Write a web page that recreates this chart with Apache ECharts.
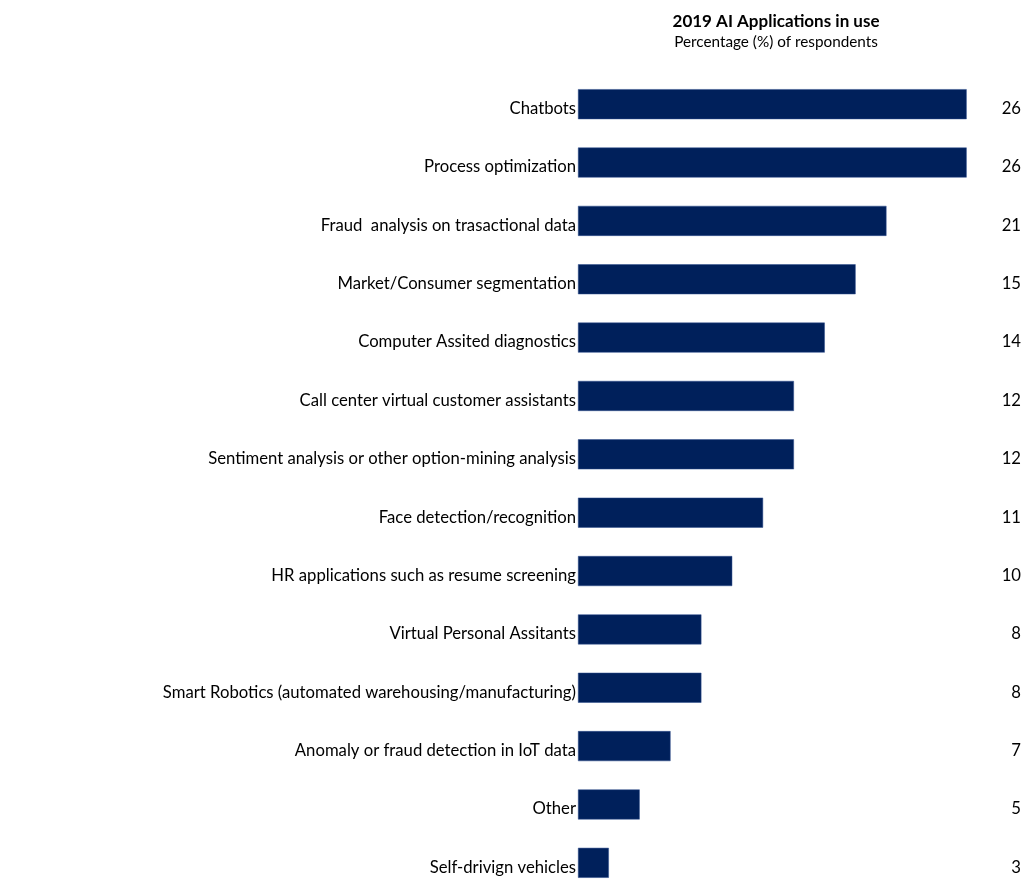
<!DOCTYPE html>
<html>
<head>
<meta charset="utf-8">
<script src="https://cdn.jsdelivr.net/npm/echarts@6/dist/echarts.min.js"></script>
<style>
  html, body { margin: 0; padding: 0; background: #fff; }
  #chart { width: 1024px; height: 892px; }
</style>
</head>
<body>
<div id="chart"></div>
<script>
// categories, top to bottom
const categories = [
  'Chatbots',
  'Process optimization',
  'Fraud  analysis on trasactional data',
  'Market/Consumer segmentation',
  'Computer Assited diagnostics',
  'Call center virtual customer assistants',
  'Sentiment analysis or other option-mining analysis',
  'Face detection/recognition',
  'HR applications such as resume screening',
  'Virtual Personal Assitants',
  'Smart Robotics (automated warehousing/manufacturing)',
  'Anomaly or fraud detection in IoT data',
  'Other',
  'Self-drivign vehicles'
];
// printed percentages
const percents = [26, 26, 21, 15, 14, 12, 12, 11, 10, 8, 8, 7, 5, 3];
// bar lengths as drawn in the picture (not proportional to the printed numbers)
const barLengths = [12.6, 12.6, 10, 9, 8, 7, 7, 6, 5, 4, 4, 3, 2, 1];

const font = 'Lato, "Open Sans", sans-serif';
const chart = echarts.init(document.getElementById('chart'));

// labels sit a little below the bar centre, as in the original
const labelText = { fontFamily: font, fontSize: 16.7, color: '#000', verticalAlign: 'top', lineHeight: 9 };

chart.setOption({
  animation: false,
  title: {
    text: '2019 AI Applications in use',
    subtext: 'Percentage (%) of respondents',
    left: 771,
    top: 8,
    textAlign: 'center',
    itemGap: 5,
    textStyle: { fontFamily: font, fontSize: 17, fontWeight: 'bold', color: '#000' },
    subtextStyle: { fontFamily: font, fontSize: 15.3, color: '#000' }
  },
  grid: { left: 578, top: 75, width: 403, height: 821 },
  xAxis: {
    type: 'value', min: 0, max: 13,
    show: false
  },
  yAxis: [
    {
      type: 'category', inverse: true, data: categories,
      axisLine: { show: false }, axisTick: { show: false },
      axisLabel: Object.assign({ margin: 2 }, labelText)
    },
    {
      type: 'category', inverse: true, position: 'right', data: percents,
      axisLine: { show: false }, axisTick: { show: false },
      axisLabel: Object.assign({ margin: 42, align: 'right' }, labelText)
    }
  ],
  series: [{
    type: 'bar',
    data: barLengths,
    barWidth: 30,
    itemStyle: { color: '#00205b', borderColor: '#2f4f8f', borderWidth: 0.5 }
  }]
});
</script>
</body>
</html>
